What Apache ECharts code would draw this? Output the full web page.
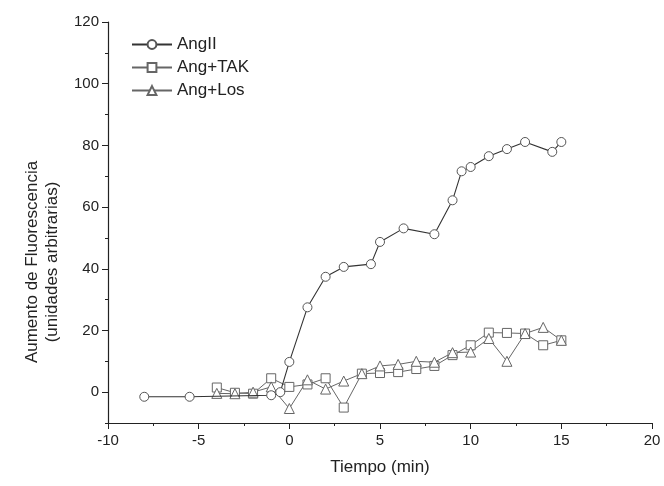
<!DOCTYPE html>
<html>
<head>
<meta charset="utf-8">
<script src="https://cdn.jsdelivr.net/npm/echarts@6/dist/echarts.min.js"></script>
<style>html,body{margin:0;padding:0;background:#fff}#c{width:664px;height:486px}</style>
</head>
<body>
<div id="c"></div>
<script>
// Tick values
const xTicks = [-10, -5, 0, 5, 10, 15, 20];
const yTicks = [0, 20, 40, 60, 80, 100, 120];

// AngII (circles)
const angT = [-8, -5.5, -1, -0.5, 0, 1, 2, 3, 4.5, 5, 6.3, 8, 9, 9.5, 10, 11, 12, 13, 14.5, 15];
const angV = [-1.5, -1.5, -1, 0, 9.8, 27.5, 37.4, 40.6, 41.5, 48.7, 53.1, 51.2, 62.2, 71.6, 73, 76.5, 78.8, 81.1, 77.9, 81.1];

// Ang+TAK (squares)
const takT = [-4, -3, -2, -1, 0, 1, 2, 3, 4, 5, 6, 7, 8, 9, 10, 11, 12, 13, 14, 15];
const takV = [1.5, -0.2, -0.5, 4.5, 1.7, 2.5, 4.5, -5, 6, 6.2, 6.5, 7.5, 8.5, 12, 15.2, 19.3, 19.2, 19, 15.2, 16.8];

// Ang+Los (triangles)
const losT = [-4, -3, -2, -1, 0, 1, 2, 3, 4, 5, 6, 7, 8, 9, 10, 11, 12, 13, 14, 15];
const losV = [-0.4, -0.5, 0, 1.7, -5.3, 4, 1, 3.6, 6, 8.5, 9, 10, 9.7, 12.8, 13, 17.4, 10, 19, 21, 16.8];

const zip = (t, v) => t.map((x, i) => [x, v[i]]);
const font = '"Liberation Sans", Arial, sans-serif';
const txt = '#222';

const chart = echarts.init(document.getElementById('c'), null, {renderer: 'canvas'});
chart.setOption({
  animation: false,
  backgroundColor: '#fff',
  grid: {left: 108, right: 12, top: 22, bottom: 63, containLabel: false},
  legend: {
    orient: 'vertical', left: 126, top: 31, itemGap: 6, itemWidth: 40, itemHeight: 11,
    textStyle: {fontFamily: font, fontSize: 17, color: txt},
    data: ['AngII', 'Ang+TAK', 'Ang+Los']
  },
  xAxis: {
    type: 'value', min: -10, max: 20, interval: 5,
    name: 'Tiempo (min)', nameLocation: 'middle', nameGap: 36,
    nameTextStyle: {fontFamily: font, fontSize: 17, color: txt},
    axisLine: {onZero: false, lineStyle: {color: '#222', width: 1.2}},
    axisTick: {show: true, length: 6, lineStyle: {color: '#222'}},
    minorTick: {show: true, splitNumber: 2, length: 3, lineStyle: {color: '#222'}},
    splitLine: {show: false},
    axisLabel: {fontFamily: font, fontSize: 15, color: txt, margin: 10,
      formatter: v => xTicks.includes(v) ? String(v) : ''}
  },
  yAxis: [{
    type: 'value', min: -10, max: 120, interval: 10,
    axisLine: {show: true, onZero: false, lineStyle: {color: '#222', width: 1.2}},
    axisTick: {show: true, length: 3, lineStyle: {color: '#222'}},
    splitLine: {show: false},
    axisLabel: {fontFamily: font, fontSize: 15, color: txt, margin: 9,
      formatter: v => yTicks.includes(v) ? String(v) : ''}
  }, {
    type: 'value', min: -10, max: 120, position: 'left',
    axisLine: {show: false, onZero: false},
    axisTick: {show: true, length: 6, customValues: yTicks, lineStyle: {color: '#222'}},
    axisLabel: {show: false},
    splitLine: {show: false}
  }],
  graphic: [{
    type: 'text', x: 42, y: 262, rotation: Math.PI / 2,
    style: {
      text: 'Aumento de Fluorescencia\n(unidades arbitrarias)',
      fontFamily: font, fontSize: 17, fill: txt, lineHeight: 20,
      align: 'center', verticalAlign: 'middle'
    }
  }],
  series: [
    {
      name: 'AngII', type: 'line', data: zip(angT, angV), z: 3,
      symbol: 'circle', symbolSize: 9,
      lineStyle: {color: '#333', width: 1.1},
      itemStyle: {color: '#fff', borderColor: '#555', borderWidth: 1}
    },
    {
      name: 'Ang+TAK', type: 'line', data: zip(takT, takV), z: 2,
      symbol: 'rect', symbolSize: 9,
      lineStyle: {color: '#666', width: 1},
      itemStyle: {color: '#fff', borderColor: '#666', borderWidth: 1}
    },
    {
      name: 'Ang+Los', type: 'line', data: zip(losT, losV), z: 2,
      symbol: 'triangle', symbolSize: 10,
      lineStyle: {color: '#666', width: 1},
      itemStyle: {color: '#fff', borderColor: '#666', borderWidth: 1}
    }
  ]
});
</script>
</body>
</html>
